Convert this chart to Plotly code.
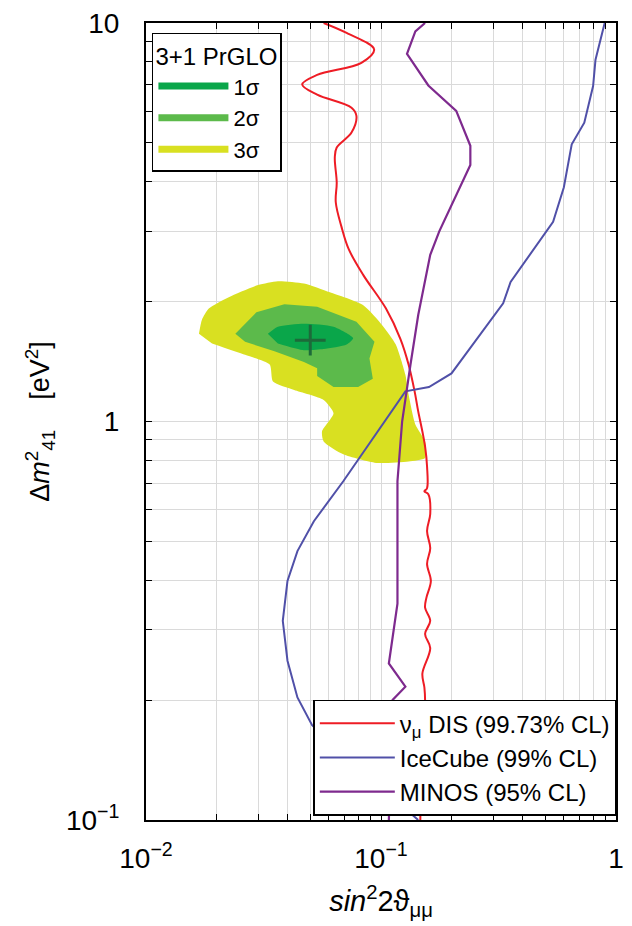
import plotly.graph_objects as go

# ---- data ----
# nu_mu DIS (99.73% CL)
dis_x = [0.0570, 0.0714, 0.0935, 0.0825, 0.0535, 0.0462, 0.0535, 0.0749, 0.0786, 0.0749,
         0.0648, 0.0636, 0.0648, 0.0642, 0.0680, 0.0728, 0.0841, 0.105, 0.121, 0.131,
         0.139, 0.144, 0.150, 0.154, 0.157, 0.157, 0.153, 0.159, 0.162, 0.157,
         0.162, 0.157, 0.163, 0.156, 0.154, 0.162, 0.154, 0.162, 0.150, 0.153,
         0.154, 0.151, 0.148, 0.147]
dis_y = [10.0, 9.44, 8.58, 7.94, 7.41, 7.01, 6.61, 6.13, 5.85, 5.31,
         4.87, 4.60, 3.98, 3.55, 3.07, 2.71, 2.33, 1.92, 1.61, 1.39,
         1.19, 1.06, 0.944, 0.866, 0.772, 0.680, 0.668, 0.657, 0.586, 0.531,
         0.481, 0.439, 0.398, 0.361, 0.341, 0.316, 0.293, 0.270, 0.233, 0.215,
         0.200, 0.158, 0.126, 0.100]

# IceCube (99% CL)
ice_x = [0.895, 0.818, 0.799, 0.733, 0.648, 0.600, 0.540, 0.356, 0.331, 0.1995,
         0.160, 0.127, 0.0691, 0.0518, 0.0441, 0.0400, 0.0382, 0.0400, 0.0441, 0.0509,
         0.080, 0.144]
ice_y = [10.0, 8.09, 6.95, 5.62, 4.96, 3.87, 3.17, 2.24, 1.98, 1.32,
         1.22, 1.19, 0.708, 0.562, 0.473, 0.398, 0.316, 0.251, 0.203, 0.173,
         0.135, 0.100]

# MINOS (95% CL)
minos_x = [0.154, 0.140, 0.129, 0.159, 0.209, 0.240, 0.240, 0.177, 0.162, 0.144,
           0.1335, 0.123, 0.1175, 0.1175, 0.108, 0.127, 0.112, 0.108]
minos_y = [10.0, 9.53, 8.37, 6.97, 6.02, 4.92, 4.40, 3.00, 2.62, 1.85,
           1.39, 1.00, 0.708, 0.349, 0.247, 0.216, 0.200, 0.100]

# 3+1 PrGLO allowed regions
s3_x = [0.0168, 0.0173, 0.0185, 0.0225, 0.0300, 0.0364, 0.0470, 0.0606, 0.0838, 0.1016, 0.1156,
        0.127, 0.131, 0.140, 0.154, 0.154, 0.131, 0.0953, 0.0691, 0.0570, 0.0561,
        0.0628, 0.0570, 0.0427, 0.0347, 0.0336, 0.0264, 0.0191]
s3_y = [1.66, 1.80, 1.92, 2.05, 2.20, 2.25, 2.22, 2.11, 1.96, 1.74, 1.56,
        1.31, 1.17, 0.983, 0.891, 0.810, 0.794, 0.787, 0.827, 0.891, 0.944,
        1.049, 1.133, 1.20, 1.26, 1.39, 1.47, 1.57]
s2_x = [0.0240, 0.0295, 0.0388, 0.0535, 0.0786, 0.0938, 0.0893, 0.0923, 0.0799, 0.0628,
        0.0535, 0.0535, 0.0470, 0.0352, 0.0264]
s2_y = [1.66, 1.88, 1.97, 1.94, 1.78, 1.585, 1.44, 1.28, 1.22, 1.22,
        1.30, 1.36, 1.41, 1.50, 1.585]
s1_x = [0.0330, 0.0364, 0.0470, 0.0628, 0.0761, 0.0714, 0.0570, 0.0470, 0.0364]
s1_y = [1.66, 1.73, 1.76, 1.73, 1.62, 1.56, 1.52, 1.51, 1.57]
best_x = [0.050]
best_y = [1.60]

x_tickvals = [0.01, 0.1, 1.0]
x_ticktext = ["10<sup>−2</sup>", "10<sup>−1</sup>", "1"]
y_tickvals = [0.1, 1.0, 10.0]
y_ticktext = ["10<sup>−1</sup>", "1", "10"]
x_minor = [0.02, 0.03, 0.04, 0.05, 0.06, 0.07, 0.08, 0.09,
           0.2, 0.3, 0.4, 0.5, 0.6, 0.7, 0.8, 0.9]
y_minor = [0.2, 0.3, 0.4, 0.5, 0.6, 0.7, 0.8, 0.9,
           2, 3, 4, 5, 6, 7, 8, 9]

# ---- styles ----
C1, C2, C3 = "#0aa64a", "#5cba4b", "#d9e021"
RED, BLUE, PURPLE = "#ee1c25", "#5050a8", "#7e2a8e"
FONT = "Liberation Sans, Arial, sans-serif"
GRID = "#dadada"

fig = go.Figure()
fig.add_trace(go.Scatter(x=s3_x, y=s3_y, fill="toself", fillcolor=C3, mode="lines",
                         line=dict(width=0, color=C3, shape="spline", smoothing=0.6),
                         showlegend=False, hoverinfo="skip"))
fig.add_trace(go.Scatter(x=s2_x, y=s2_y, fill="toself", fillcolor=C2, mode="lines",
                         line=dict(width=0, color=C2), showlegend=False, hoverinfo="skip"))
fig.add_trace(go.Scatter(x=s1_x, y=s1_y, fill="toself", fillcolor=C1, mode="lines",
                         line=dict(width=0, color=C1, shape="spline", smoothing=0.6),
                         showlegend=False, hoverinfo="skip"))
fig.add_trace(go.Scatter(x=best_x, y=best_y, mode="markers", showlegend=False,
                         marker=dict(symbol="cross-thin", size=22,
                                     line=dict(width=3, color="#1d6a3a"))))

fig.add_trace(go.Scatter(x=dis_x, y=dis_y, mode="lines", line=dict(color=RED, width=2),
                         name="ν<sub>μ</sub> DIS (99.73% CL)", legend="legend2",
                         line_shape="spline"))
fig.add_trace(go.Scatter(x=ice_x, y=ice_y, mode="lines", line=dict(color=BLUE, width=2),
                         name="IceCube (99% CL)", legend="legend2"))
fig.add_trace(go.Scatter(x=minos_x, y=minos_y, mode="lines", line=dict(color=PURPLE, width=2.2),
                         name="MINOS (95% CL)", legend="legend2"))

for name, col in [("1σ", C1), ("2σ", C2), ("3σ", C3)]:
    fig.add_trace(go.Scatter(x=[None], y=[None], mode="lines", name=name,
                             line=dict(color=col, width=7), legend="legend"))

axis_common = dict(type="log", showline=True, linecolor="black", linewidth=2, mirror="ticks",
                   ticks="inside", ticklen=6, tickwidth=1, tickcolor="black",
                   showgrid=True, gridcolor=GRID, gridwidth=1.2, zeroline=False,
                   tickfont=dict(size=28, color="black", family=FONT))

fig.update_xaxes(range=[-2, 0], tickmode="array", tickvals=x_tickvals, ticktext=x_ticktext,
                 ticklabelstandoff=12,
                 minor=dict(tickmode="array", tickvals=x_minor, ticks="inside", ticklen=6,
                            tickcolor="black", showgrid=True, gridcolor=GRID, gridwidth=1.2),
                 title=dict(text="<i>sin</i><sup>2</sup>2ϑ<sub>μμ</sub>",
                            font=dict(size=29, color="black", family=FONT), standoff=18),
                 **axis_common)
fig.update_yaxes(range=[-1, 1], tickmode="array", tickvals=y_tickvals, ticktext=y_ticktext,
                 ticklabelstandoff=19,
                 minor=dict(tickmode="array", tickvals=y_minor, ticks="inside", ticklen=6,
                            tickcolor="black", showgrid=True, gridcolor=GRID, gridwidth=1.2),
                 title=dict(text="Δ<i>m</i><sup>2</sup><sub>41</sub>    [eV<sup>2</sup>]",
                            font=dict(size=27, color="black", family=FONT), standoff=8),
                 **axis_common)

fig.update_layout(
    width=632, height=926,
    margin=dict(l=146, r=8, t=20, b=106),
    plot_bgcolor="white", paper_bgcolor="white",
    font=dict(family=FONT, color="black"),
    legend=dict(x=0.0126, y=0.988, xanchor="left", yanchor="top",
                bgcolor="white", bordercolor="black", borderwidth=1.5,
                title=dict(text="3+1 PrGLO", font=dict(size=24, family=FONT), side="top"),
                font=dict(size=22, family=FONT), tracegroupgap=0, itemwidth=70),
    legend2=dict(x=0.356, y=0.151, xanchor="left", yanchor="top",
                 bgcolor="white", bordercolor="black", borderwidth=1.5,
                 font=dict(size=24, family=FONT), itemwidth=75),
)

fig.write_html("out.html")
